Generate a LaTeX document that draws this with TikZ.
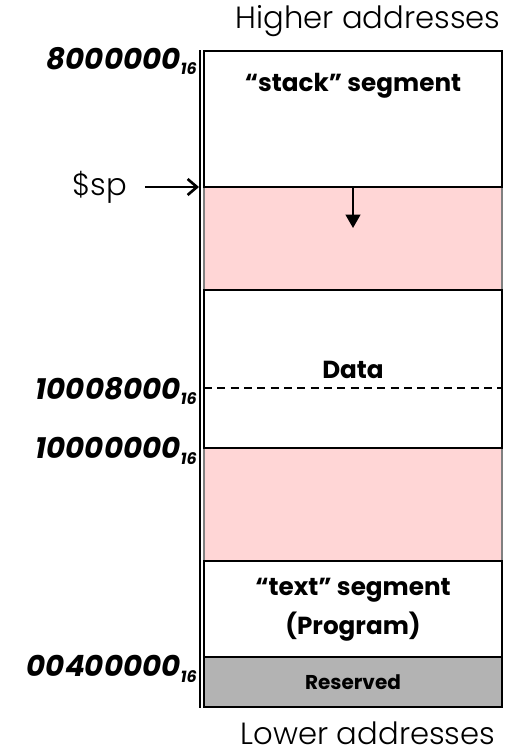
\documentclass[tikz,border=0pt]{standalone}
\usepackage{fontspec}
\setmainfont{Poppins}
\newfontfamily\thinfont{Poppins}[UprightFont=* Light]
\usepackage{tikz}
\usetikzlibrary{arrows.meta, positioning}
\usepackage{xcolor}

\definecolor{freepink}{RGB}{255,214,214}
\definecolor{resgray}{RGB}{179,179,179}

% subscript base for the addresses
\newcommand{\hexsub}{{\fontsize{12}{12}\selectfont\raisebox{-4pt}{16}}}

\tikzset{
  seg/.style={draw=black, line width=2pt},
  seglabel/.style={font=\bfseries\fontsize{18.5}{29}\selectfont},
  addr/.style={anchor=east, inner sep=0pt, font=\bfseries\itshape\fontsize{22}{24}\selectfont},
  note/.style={inner sep=1pt, font=\thinfont\fontsize{23}{26}\selectfont}
}

\begin{document}
\begin{tikzpicture}[x=0.75pt, y=-0.75pt]
  \useasboundingbox (0,0) rectangle (504,753);

  % free space between the segments
  \fill[freepink] (204,187) rectangle (502,561);
  \draw[gray, line width=0.8pt] (204,187) rectangle (502,561);

  % segments
  \draw[seg, fill=white] (204,51) rectangle (502,187);
  \draw[seg, fill=white] (204,290) rectangle (502,448);
  \draw[seg, fill=white] (204,561) rectangle (502,657);
  \draw[seg, fill=resgray] (204,657) rectangle (502,707);
  \draw[line width=2pt] (200,50) -- (200,708);
  \draw[dashed, dash pattern=on 6pt off 4pt, line width=1.3pt] (204,388) -- (502,388);

  \node[seglabel] (stack) at (353,86) {“stack” segment};
  \node[seglabel] (data) at (353,370) {Data};
  \node[seglabel, align=center] (text) at (353,610) {“text” segment\\(Program)};
  \node[seglabel, font=\bfseries\fontsize{15}{17}\selectfont] (res) at (353,682) {Reserved};

  % stack grows downward
  \coordinate (growtop) at (353,187);
  \coordinate (growend) at (353,228);
  \draw[-{Triangle[length=10pt, width=11pt]}, line width=1.5pt] (growtop) -- (growend);

  % addresses
  \node[addr] (a1) at (197,61) {8000000\hexsub};
  \node[addr] (a2) at (197,391) {10008000\hexsub};
  \node[addr] (a3) at (197,451) {10000000\hexsub};
  \node[addr] (a4) at (197,669) {00400000\hexsub};

  % stack pointer
  \node[note] (sp) at (100,187) {\$sp};
  \coordinate (spend) at (199,187);
  \draw[-{Straight Barb[length=7pt, width=12pt]}, line width=2pt] (sp.east) ++(16,0) -- (spend);

  \node[note] (hi) at (368,21) {Higher addresses};
  \node[note] (lo) at (368,733) {Lower addresses};
\end{tikzpicture}
\end{document}
